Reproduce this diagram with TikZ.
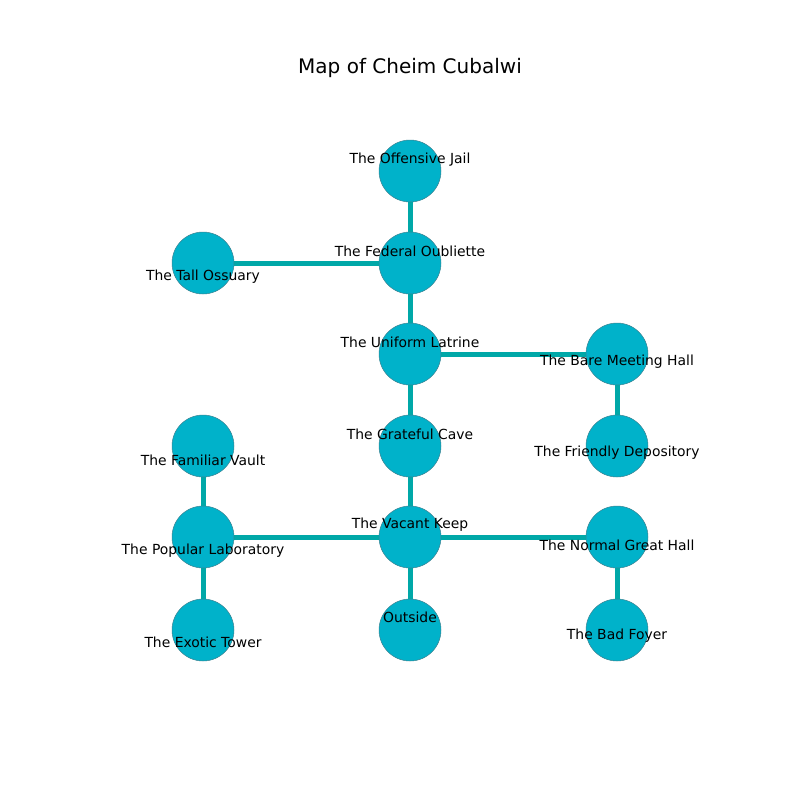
\documentclass[tikz,border=0pt]{standalone}
\usepackage{fontspec}
\setmainfont{DejaVu Sans}
\definecolor{nodefill}{RGB}{0,178,202}
\definecolor{edgecol}{RGB}{0,168,168}
\definecolor{rimcol}{RGB}{60,130,145}
\begin{document}
\begin{tikzpicture}[x=1pt,y=-1pt,
  room/.style={circle,fill=nodefill,draw=rimcol,line width=0.5pt,minimum size=62pt,inner sep=0pt},
  lbl/.style={font=\fontsize{13.9}{16}\selectfont,inner sep=0pt,anchor=center},
  link/.style={draw=edgecol,line width=5pt}]
\useasboundingbox (0,0) rectangle (800,800);
\node[font=\fontsize{20}{24}\selectfont] (title) at (410,68) {Map of Cheim Cubalwi};
% rooms
\coordinate (jail) at (410,171);
\coordinate (oub) at (410,263);
\coordinate (oss) at (203,263);
\coordinate (lat) at (410,354);
\coordinate (bare) at (617,354);
\coordinate (cave) at (410,446);
\coordinate (dep) at (617,446);
\coordinate (vault) at (203,446);
\coordinate (keep) at (410,537);
\coordinate (great) at (617,537);
\coordinate (lab) at (203,537);
\coordinate (tower) at (203,630);
\coordinate (out) at (410,630);
\coordinate (foyer) at (617,630);
% edges
\draw[link] (jail) -- (oub);
\draw[link] (oub) -- (oss);
\draw[link] (oub) -- (lat);
\draw[link] (lat) -- (bare);
\draw[link] (lat) -- (cave);
\draw[link] (bare) -- (dep);
\draw[link] (cave) -- (keep);
\draw[link] (keep) -- (lab);
\draw[link] (keep) -- (great);
\draw[link] (keep) -- (out);
\draw[link] (vault) -- (lab);
\draw[link] (lab) -- (tower);
\draw[link] (great) -- (foyer);
% circles
\foreach \n in {jail,oub,oss,lat,bare,cave,dep,vault,keep,great,lab,tower,out,foyer}
  \node[room] (c\n) at (\n) {};
% labels
\node[lbl] (ljail) at (410,160) {The Offensive Jail};
\node[lbl] (loub) at (410,251) {The Federal Oubliette};
\node[lbl] (loss) at (203,277) {The Tall Ossuary};
\node[lbl] (llat) at (410,342) {The Uniform Latrine};
\node[lbl] (lbare) at (617,362) {The Bare Meeting Hall};
\node[lbl] (lcave) at (410,434) {The Grateful Cave};
\node[lbl] (ldep) at (617,453) {The Friendly Depository};
\node[lbl] (lvault) at (203,460) {The Familiar Vault};
\node[lbl] (lkeep) at (410,525) {The Vacant Keep};
\node[lbl] (lgreat) at (617,545) {The Normal Great Hall};
\node[lbl] (llab) at (203,551) {The Popular Laboratory};
\node[lbl] (ltower) at (203,642) {The Exotic Tower};
\node[lbl] (lout) at (410,617) {Outside};
\node[lbl] (lfoyer) at (617,636) {The Bad Foyer};
\end{tikzpicture}
\end{document}
